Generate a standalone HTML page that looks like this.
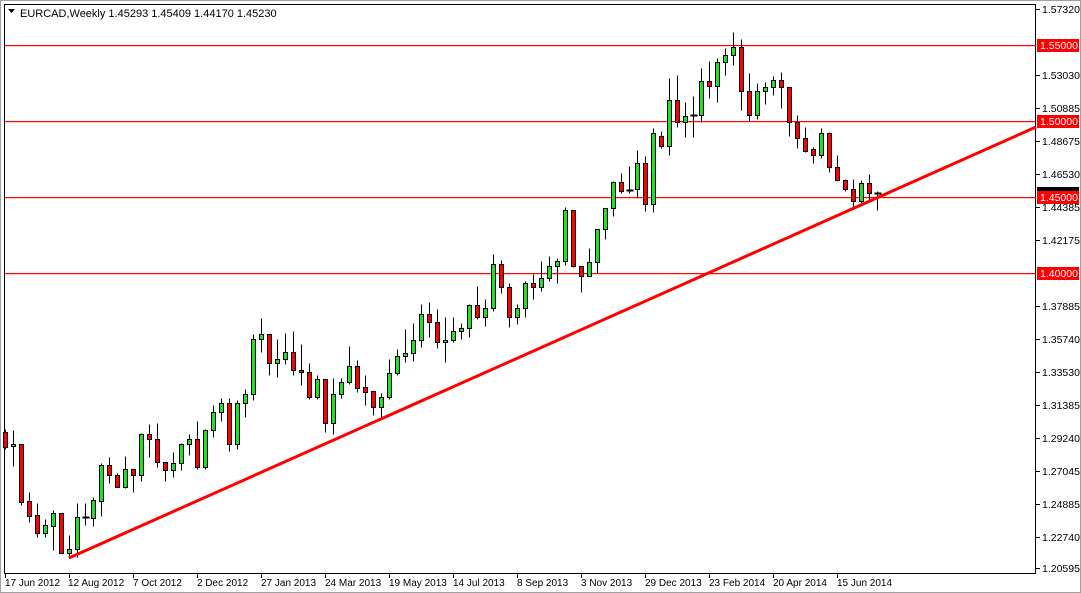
<!DOCTYPE html>
<html><head><meta charset="utf-8"><style>
html,body{margin:0;padding:0;background:#fff;}
svg{display:block;font-family:"Liberation Sans",sans-serif;font-size:10.5px;}
</style></head><body>
<svg width="1081" height="593" viewBox="0 0 1081 593" xmlns="http://www.w3.org/2000/svg">
<rect x="0" y="0" width="1081" height="593" fill="#fff"/>
<rect x="0.5" y="0.5" width="1080" height="592" fill="none" stroke="#a0a0a0"/>
<rect x="4.5" y="4.5" width="1031" height="569" fill="none" stroke="#000"/>
<g fill="#ff0000">
<rect x="5" y="45" width="1031" height="1.2"/>
<rect x="5" y="121" width="1031" height="1.2"/>
<rect x="5" y="197" width="1031" height="1.2"/>
<rect x="5" y="273" width="1031" height="1.2"/>
</g>
<g transform="translate(0.5,0.5)" shape-rendering="crispEdges">
<path fill="none" stroke="#000" stroke-width="1" d="M5 429V449M13 430V466M21 444V505M29 492V522M37 503V537M45 519V537M53 510V550M61 513V553M69 535V558M77 503V557M85 503V525M93 497V526M101 463V516M109 457V483M117 473V487M125 456V488M133 469V492M141 433V481M149 424V457M157 423V467M165 462V481M173 452V477M181 443V470M189 434V455M197 421V469M205 429V469M213 405V437M221 398V421M229 398V451M237 400V449M245 389V417M253 334V400M261 318V352M269 334V375M277 339V377M285 333V364M293 331V375M301 344V385M309 363V399M317 375V399M325 379V432M333 378V434M341 378V398M349 346V384M357 360V392M365 375V405M373 391V415M381 393V417M389 359V399M397 349V375M405 329V362M413 323V361M421 304V347M429 302V337M437 309V348M445 317V362M453 317V342M461 323V339M469 304V337M477 286V319M485 299V326M493 254V311M501 260V293M509 283V327M517 304V324M525 281V317M533 274V299M541 261V291M549 256V281M557 258V283M565 207V265M573 210V267M581 266V292M589 248V276M597 229V273M605 208V239M613 181V216M621 173V193M629 166V193M637 150V198M645 156V211M653 128V212M661 131V148M669 78V155M677 75V127M685 102V137M693 96V137M701 68V122M709 61V98M717 58V102M725 48V75M733 32V65M741 39V110M749 73V121M757 83V119M765 82V104M773 76V95M781 72V108M789 87V136M797 115V148M805 127V152M813 147V163M821 128V158M829 132V172M837 155V181M845 179V191M853 179V207M861 180V205M869 174V201M877 191V210"/>
<path fill="#ff0000" stroke="#000" stroke-width="1" d="M3 432h4v15h-4zM19 444h4v58h-4zM27 501h4v15h-4zM35 515h4v18h-4zM59 513h4v40h-4zM107 465h4v10h-4zM115 475h4v12h-4zM131 469h4v6h-4zM147 434h4v5h-4zM155 439h4v23h-4zM163 462h4v8h-4zM195 439h4v28h-4zM227 403h4v41h-4zM267 334h4v29h-4zM291 352h4v18h-4zM299 370h4v2h-4zM307 372h4v25h-4zM323 379h4v44h-4zM355 366h4v22h-4zM363 387h4v5h-4zM371 391h4v16h-4zM427 314h4v8h-4zM435 322h4v20h-4zM475 305h4v12h-4zM499 264h4v23h-4zM507 287h4v30h-4zM531 283h4v4h-4zM571 210h4v56h-4zM579 266h4v10h-4zM619 182h4v9h-4zM643 163h4v41h-4zM659 136h4v10h-4zM675 100h4v22h-4zM707 81h4v5h-4zM739 47h4v44h-4zM747 91h4v24h-4zM779 80h4v7h-4zM787 87h4v35h-4zM795 122h4v16h-4zM803 138h4v13h-4zM811 149h4v6h-4zM827 133h4v34h-4zM835 167h4v13h-4zM843 180h4v9h-4zM851 189h4v12h-4zM867 183h4v10h-4z"/>
<path fill="#22e022" stroke="#000" stroke-width="1" d="M11 444h4v2h-4zM43 525h4v8h-4zM51 513h4v13h-4zM67 549h4v4h-4zM75 517h4v32h-4zM91 500h4v18h-4zM99 465h4v36h-4zM123 469h4v18h-4zM139 434h4v41h-4zM171 463h4v7h-4zM179 444h4v19h-4zM187 439h4v5h-4zM203 430h4v37h-4zM211 412h4v18h-4zM219 403h4v9h-4zM235 403h4v41h-4zM243 394h4v9h-4zM251 339h4v55h-4zM259 334h4v5h-4zM275 359h4v4h-4zM283 352h4v7h-4zM315 379h4v18h-4zM331 394h4v29h-4zM339 382h4v12h-4zM347 366h4v16h-4zM379 397h4v10h-4zM387 373h4v24h-4zM395 356h4v17h-4zM403 353h4v3h-4zM411 340h4v13h-4zM419 314h4v26h-4zM443 340h4v2h-4zM451 331h4v9h-4zM459 328h4v3h-4zM467 305h4v23h-4zM483 308h4v9h-4zM491 264h4v44h-4zM515 308h4v9h-4zM523 283h4v25h-4zM539 278h4v9h-4zM547 266h4v12h-4zM555 261h4v5h-4zM563 210h4v51h-4zM587 262h4v14h-4zM595 229h4v33h-4zM603 208h4v21h-4zM611 182h4v26h-4zM635 163h4v26h-4zM651 133h4v71h-4zM667 100h4v46h-4zM683 116h4v6h-4zM699 81h4v34h-4zM715 62h4v24h-4zM723 55h4v7h-4zM731 47h4v8h-4zM755 91h4v24h-4zM763 87h4v4h-4zM771 80h4v7h-4zM819 133h4v22h-4zM859 183h4v18h-4z"/>
<path fill="none" stroke="#000" stroke-width="2" d="M82 517h7M626 190h7M690 115h7M874 193h7"/>
</g>
<line x1="69" y1="558" x2="1036" y2="127" stroke="#ff0000" stroke-width="3"/>
<path d="M8 9h7l-3.5 4z" fill="#000"/>
<text x="20" y="17" fill="#000" font-size="11">EURCAD,Weekly  1.45293 1.45409 1.44170 1.45230</text>
<g fill="#000" shape-rendering="crispEdges">
<rect x="1036" y="9" width="4" height="1"/><rect x="1036" y="75" width="4" height="1"/><rect x="1036" y="108" width="4" height="1"/><rect x="1036" y="141" width="4" height="1"/><rect x="1036" y="174" width="4" height="1"/><rect x="1036" y="207" width="4" height="1"/><rect x="1036" y="240" width="4" height="1"/><rect x="1036" y="306" width="4" height="1"/><rect x="1036" y="339" width="4" height="1"/><rect x="1036" y="372" width="4" height="1"/><rect x="1036" y="405" width="4" height="1"/><rect x="1036" y="438" width="4" height="1"/><rect x="1036" y="471" width="4" height="1"/><rect x="1036" y="504" width="4" height="1"/><rect x="1036" y="537" width="4" height="1"/><rect x="1036" y="568" width="4" height="1"/>
</g>
<g fill="#000">
<text x="1042" y="13">1.57320</text>
<text x="1042" y="79">1.53030</text>
<text x="1042" y="112">1.50885</text>
<text x="1042" y="145">1.48675</text>
<text x="1042" y="178">1.46530</text>
<text x="1042" y="211">1.44385</text>
<text x="1042" y="244">1.42175</text>
<text x="1042" y="310">1.37885</text>
<text x="1042" y="343">1.35740</text>
<text x="1042" y="376">1.33530</text>
<text x="1042" y="409">1.31385</text>
<text x="1042" y="442">1.29240</text>
<text x="1042" y="475">1.27045</text>
<text x="1042" y="508">1.24885</text>
<text x="1042" y="541">1.22740</text>
<text x="1042" y="572">1.20595</text>
</g>
<rect x="1037" y="187" width="42" height="12" fill="#000"/>
<g fill="#ff0000">
<rect x="1037" y="39" width="42" height="13"/>
<rect x="1037" y="115" width="42" height="13"/>
<rect x="1037" y="191" width="42" height="13"/>
<rect x="1037" y="267" width="42" height="13"/>
</g>
<g fill="#fff">
<text x="1040" y="49">1.55000</text>
<text x="1040" y="125">1.50000</text>
<text x="1040" y="201">1.45000</text>
<text x="1040" y="277">1.40000</text>
</g>
<g fill="#000" shape-rendering="crispEdges">
<rect x="5" y="574" width="1" height="4"/><rect x="69" y="574" width="1" height="4"/><rect x="133" y="574" width="1" height="4"/><rect x="197" y="574" width="1" height="4"/><rect x="261" y="574" width="1" height="4"/><rect x="325" y="574" width="1" height="4"/><rect x="389" y="574" width="1" height="4"/><rect x="453" y="574" width="1" height="4"/><rect x="517" y="574" width="1" height="4"/><rect x="581" y="574" width="1" height="4"/><rect x="645" y="574" width="1" height="4"/><rect x="709" y="574" width="1" height="4"/><rect x="773" y="574" width="1" height="4"/><rect x="837" y="574" width="1" height="4"/>
</g>
<g fill="#000" font-size="10">
<text x="5" y="586">17 Jun 2012</text>
<text x="68" y="586">12 Aug 2012</text>
<text x="133" y="586">7 Oct 2012</text>
<text x="197" y="586">2 Dec 2012</text>
<text x="261" y="586">27 Jan 2013</text>
<text x="325" y="586">24 Mar 2013</text>
<text x="389" y="586">19 May 2013</text>
<text x="453" y="586">14 Jul 2013</text>
<text x="517" y="586">8 Sep 2013</text>
<text x="581" y="586">3 Nov 2013</text>
<text x="645" y="586">29 Dec 2013</text>
<text x="709" y="586">23 Feb 2014</text>
<text x="773" y="586">20 Apr 2014</text>
<text x="837" y="586">15 Jun 2014</text>
</g>
</svg>
</body></html>
